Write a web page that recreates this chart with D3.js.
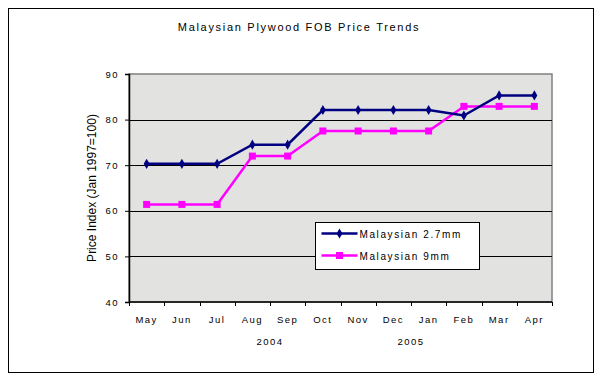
<!DOCTYPE html>
<html>
<head>
<meta charset="utf-8">
<script src="https://cdn.jsdelivr.net/npm/d3@7"></script>
<style>
  body { margin: 0; background: #fff; }
  text { font-family: "Liberation Sans", Arial, sans-serif; fill: #000; }
</style>
</head>
<body>
<svg id="svg" width="600" height="381"></svg>
<script>
const months = ['May', 'Jun', 'Jul', 'Aug', 'Sep', 'Oct', 'Nov', 'Dec', 'Jan', 'Feb', 'Mar', 'Apr'];
const ply27 = [70.3, 70.3, 70.3, 74.5, 74.5, 82.1, 82.1, 82.1, 82.1, 80.9, 85.3, 85.3];
const ply9 = [61.4, 61.4, 61.4, 72, 72, 77.5, 77.5, 77.5, 77.5, 82.9, 82.9, 82.9];
const yTicks = [40, 50, 60, 70, 80, 90];
const years = [{ label: '2004', at: 'Sep' }, { label: '2005', at: 'Jan' }];

const svg = d3.select('svg');
const pLeft = 129, pRight = 552, pTop = 74, pBottom = 302;

// outer frame
svg.append('rect')
	.attr('x', 8.5).attr('y', 8.5)
	.attr('width', 585).attr('height', 364)
	.attr('fill', 'none').attr('stroke', '#000').attr('stroke-width', 1);

svg.append('text')
	.attr('x', 299).attr('y', 31)
	.attr('text-anchor', 'middle')
	.style('font-size', '11px').style('letter-spacing', '1.7px')
	.text('Malaysian Plywood FOB Price Trends');

const x = d3.scaleBand().domain(months).range([pLeft, pRight]);
const y = d3.scaleLinear().domain([40, 90]).range([pBottom, pTop]);

// plot area
svg.append('rect')
	.attr('x', pLeft).attr('y', pTop)
	.attr('width', pRight - pLeft).attr('height', pBottom - pTop)
	.attr('fill', '#e2e2e0').attr('stroke', '#808080').attr('stroke-width', 1.5);

svg.append('g').selectAll('line')
	.data(yTicks.filter((d) => d > 40 && d < 90))
	.enter().append('line')
	.attr('x1', pLeft).attr('x2', pRight)
	.attr('y1', (d) => Math.round(y(d)) + 0.5).attr('y2', (d) => Math.round(y(d)) + 0.5)
	.attr('stroke', '#000').attr('stroke-width', 1);

// axes
const yAxis = svg.append('g')
	.attr('transform', `translate(${pLeft},0)`)
	.call(d3.axisLeft(y).tickValues(yTicks).tickSize(4).tickPadding(6).tickFormat(d3.format('d')));
const xAxis = svg.append('g')
	.attr('transform', `translate(0,${pBottom})`)
	.call(d3.axisBottom(x).tickSize(0).tickPadding(14));
xAxis.selectAll('.tick line').remove();
// tick marks between categories
xAxis.selectAll('.sep')
	.data(months.concat(['end']))
	.enter().append('line')
	.attr('x1', (d, i) => Math.round(pLeft + i * x.step()) + 0.5)
	.attr('x2', (d, i) => Math.round(pLeft + i * x.step()) + 0.5)
	.attr('y1', 0).attr('y2', 4)
	.attr('stroke', '#000');

[yAxis, xAxis].forEach((g) => {
	g.select('.domain').attr('stroke', '#000').attr('stroke-width', 1.5);
	g.selectAll('.tick line').attr('stroke', '#000');
	g.selectAll('text')
		.style('font-family', '"Liberation Sans", Arial, sans-serif')
		.style('font-size', '9.5px').style('letter-spacing', '1.5px').attr('fill', '#000');
});
xAxis.select('.domain').attr('d', `M${pLeft},0H${pRight}`);

// year labels sit on the boundary before their month
svg.append('g').selectAll('text')
	.data(years)
	.enter().append('text')
	.attr('x', (d) => x(d.at))
	.attr('y', 345)
	.attr('text-anchor', 'middle')
	.style('font-size', '9.5px').style('letter-spacing', '1.5px')
	.text((d) => d.label);

svg.append('text')
	.attr('transform', `translate(96,${(pTop + pBottom) / 2}) rotate(-90)`)
	.attr('text-anchor', 'middle')
	.style('font-size', '12px')
	.text('Price Index (Jan 1997=100)');

const cx = (d, i) => x(months[i]) + x.bandwidth() / 2;
const line = d3.line().x(cx).y((d) => y(d));

svg.append('path').datum(ply9)
	.attr('d', line).attr('fill', 'none')
	.attr('stroke', '#ff00ff').attr('stroke-width', 2.5);
svg.append('g').selectAll('rect')
	.data(ply9).enter().append('rect')
	.attr('x', (d, i) => cx(d, i) - 3.5).attr('y', (d) => y(d) - 3.5)
	.attr('width', 7).attr('height', 7).attr('fill', '#ff00ff');

svg.append('path').datum(ply27)
	.attr('d', line).attr('fill', 'none')
	.attr('stroke', '#000080').attr('stroke-width', 2.5);
const diamond = d3.symbol().type(d3.symbolDiamond).size(30);
svg.append('g').selectAll('path')
	.data(ply27).enter().append('path')
	.attr('d', diamond)
	.attr('transform', (d, i) => `translate(${cx(d, i)},${y(d)})`)
	.attr('fill', '#000080');

// legend
const legend = svg.append('g').attr('transform', 'translate(315.5,222.5)');
legend.append('rect')
	.attr('width', 164).attr('height', 47)
	.attr('fill', '#fff').attr('stroke', '#000').attr('stroke-width', 1);
const items = [
	{ name: 'Malaysian 2.7mm', color: '#000080', mark: 'diamond' },
	{ name: 'Malaysian 9mm', color: '#ff00ff', mark: 'square' },
];
items.forEach((it, i) => {
	const ly = 11 + i * 22;
	legend.append('line')
		.attr('x1', 6).attr('x2', 42).attr('y1', ly).attr('y2', ly)
		.attr('stroke', it.color).attr('stroke-width', 2.5);
	if (it.mark === 'diamond') {
		legend.append('path').attr('d', diamond)
			.attr('transform', `translate(24,${ly})`).attr('fill', it.color);
	} else {
		legend.append('rect').attr('x', 20.5).attr('y', ly - 3.5)
			.attr('width', 7).attr('height', 7).attr('fill', it.color);
	}
	legend.append('text')
		.attr('x', 44).attr('y', ly + 4)
		.style('font-size', '10px').style('letter-spacing', '1.6px')
		.text(it.name);
});
</script>
</body>
</html>
